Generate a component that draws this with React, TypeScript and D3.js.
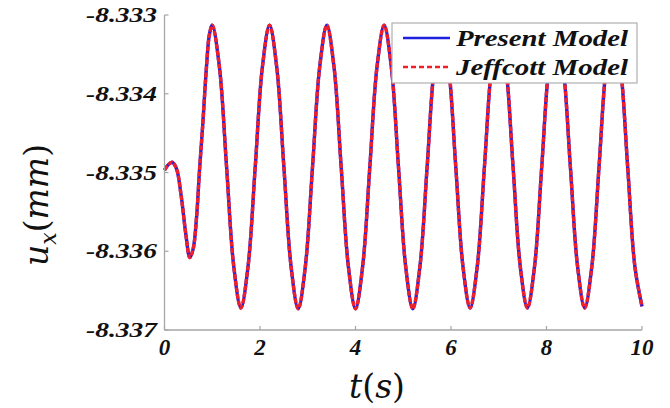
import React from "react";
import * as d3 from "d3";

// time (s)
const transientT = [0, 0.08, 0.16, 0.25, 0.35, 0.45, 0.53, 0.6, 0.67, 0.73, 0.8, 0.88, 0.94];
const transientU = [-8.33497, -8.3349, -8.33487, -8.33495, -8.3353, -8.3358, -8.33608, -8.33597, -8.33558, -8.335, -8.3344, -8.33365, -8.33325];

const steadyT = [
  1.0, 1.15, 1.3, 1.45, 1.6, 1.75, 1.9, 2.05,
  2.2, 2.35, 2.5, 2.65, 2.8, 2.95, 3.1, 3.25,
  3.4, 3.55, 3.7, 3.85, 4.0, 4.15, 4.3, 4.45,
  4.6, 4.75, 4.9, 5.05, 5.2, 5.35, 5.5, 5.65,
  5.8, 5.95, 6.1, 6.25, 6.4, 6.55, 6.7, 6.85,
  7.0, 7.15, 7.3, 7.45, 7.6, 7.75, 7.9, 8.05,
  8.2, 8.35, 8.5, 8.65, 8.8, 8.95, 9.1, 9.25,
  9.4, 9.55, 9.7, 9.85, 10.0,
];
const steadyU = [
  -8.33313, -8.33366, -8.33493, -8.33619, -8.33672, -8.33619, -8.33493, -8.33366,
  -8.33313, -8.33366, -8.33493, -8.33619, -8.33673, -8.33619, -8.33493, -8.33366,
  -8.33313, -8.33366, -8.33493, -8.33619, -8.33673, -8.33619, -8.33493, -8.33366,
  -8.33313, -8.33366, -8.33493, -8.33619, -8.33673, -8.33619, -8.33493, -8.33366,
  -8.33313, -8.33366, -8.33493, -8.33619, -8.33672, -8.33619, -8.33493, -8.33366,
  -8.33313, -8.33366, -8.33493, -8.33619, -8.33672, -8.33619, -8.33493, -8.33366,
  -8.33313, -8.33366, -8.33493, -8.33619, -8.33672, -8.33619, -8.33493, -8.33366,
  -8.33313, -8.33366, -8.33493, -8.33619, -8.3367,
];

const xTicks = [0, 2, 4, 6, 8, 10];
const yTicks = [-8.333, -8.334, -8.335, -8.336, -8.337];
const yTickLabels = ["-8.333", "-8.334", "-8.335", "-8.336", "-8.337"];
const legendLabels = ["Present Model", "Jeffcott Model"];

const W = 670;
const H = 408;
const M = { left: 164.5, right: 642, top: 15, bottom: 330 };

export default function App() {
  const x = d3.scaleLinear().domain([0, 10]).range([M.left, M.right]);
  const y = d3.scaleLinear().domain([-8.337, -8.333]).range([M.bottom, M.top]);

  const ts = [...transientT, ...steadyT];
  const us = [...transientU, ...steadyU];
  const pts: [number, number][] = ts.map((t, i) => [t, us[i]]);

  const line = d3
    .line<[number, number]>()
    .x((d) => x(d[0]))
    .y((d) => y(d[1]))
    .curve(d3.curveCatmullRom.alpha(0.5));
  const path = line(pts) || "";

  const axisColor = "#a6a6a6";
  const tickStyle = {
    fontFamily: "'Liberation Serif', 'Times New Roman', Times, serif",
    fontWeight: 700,
    fontStyle: "italic",
  } as React.CSSProperties;
  const mathFont = "'DejaVu Serif', serif";

  return (
    <svg
      width={W}
      height={H}
      style={{ position: "absolute", left: 0, top: 0, background: "#fff" }}
    >
      <rect x={0} y={0} width={W} height={H} fill="#fff" />
      {/* curves */}
      <path d={path} fill="none" stroke="#2020e0" strokeWidth={3.4} />
      <path d={path} fill="none" stroke="#f0202a" strokeWidth={3.4} strokeDasharray="5 1.6" />

      {/* axes */}
      <line x1={M.left} x2={M.left} y1={M.top} y2={M.bottom} stroke={axisColor} strokeWidth={1.3} />
      <line x1={M.left} x2={M.right} y1={M.bottom} y2={M.bottom} stroke={axisColor} strokeWidth={1.3} />
      {xTicks.map((t) => (
        <g key={"xt" + t}>
          <line x1={x(t)} x2={x(t)} y1={M.bottom} y2={M.bottom - 4} stroke={axisColor} strokeWidth={1.2} />
          <text x={x(t)} y={M.bottom + 25} textAnchor="middle" style={{ ...tickStyle, fontSize: 23 }} fill="#111">
            {t}
          </text>
        </g>
      ))}
      {yTicks.map((v, i) => (
        <g key={"yt" + v}>
          <line x1={M.left} x2={M.left + 4} y1={y(v)} y2={y(v)} stroke={axisColor} strokeWidth={1.2} />
          <text
            x={157}
            y={y(v) + 7}
            textAnchor="end"
            style={{ ...tickStyle, fontSize: 22 }}
            textLength={71}
            lengthAdjust="spacingAndGlyphs"
            fill="#111"
          >
            {yTickLabels[i]}
          </text>
        </g>
      ))}

      {/* axis titles */}
      <text x={377} y={398} textAnchor="middle" style={{ fontFamily: mathFont, fontSize: 33 }} fill="#111">
        <tspan fontStyle="italic">t</tspan>
        <tspan>(</tspan>
        <tspan fontStyle="italic">s</tspan>
        <tspan>)</tspan>
      </text>
      <text
        transform="translate(48,205) rotate(-90)"
        textAnchor="middle"
        style={{ fontFamily: mathFont, fontSize: 33 }}
        fill="#111"
      >
        <tspan fontStyle="italic">u</tspan>
        <tspan fontStyle="italic" fontSize={22} dy={8}>x</tspan>
        <tspan dy={-8}>(</tspan>
        <tspan fontStyle="italic">mm</tspan>
        <tspan>)</tspan>
      </text>

      {/* legend */}
      <rect x={392} y={23} width={245} height={60} fill="#fff" stroke="#b0b0b0" strokeWidth={1.2} />
      <line x1={403} x2={450} y1={38} y2={38} stroke="#2020e0" strokeWidth={2.4} />
      <line x1={403} x2={450} y1={67} y2={67} stroke="#f0202a" strokeWidth={2.4} strokeDasharray="5 3" />
      {legendLabels.map((l, i) => (
        <text
          key={l}
          x={456}
          y={46 + i * 29}
          style={{ ...tickStyle, fontSize: 24 }}
          textLength={172}
          lengthAdjust="spacingAndGlyphs"
          fill="#111"
        >
          {l}
        </text>
      ))}
    </svg>
  );
}
